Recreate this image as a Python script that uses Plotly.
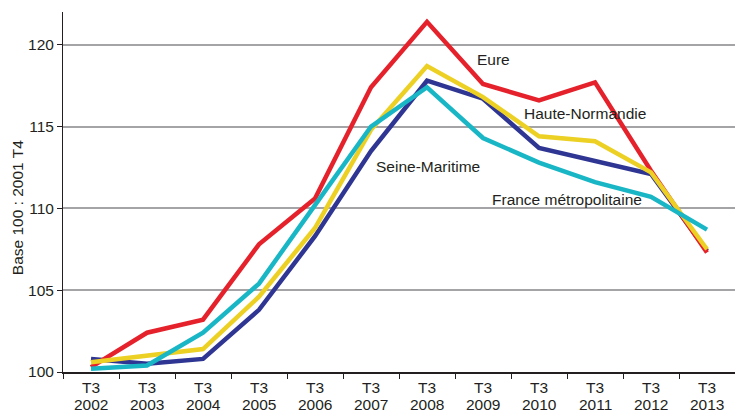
import plotly.graph_objects as go

years = ["2002", "2003", "2004", "2005", "2006", "2007", "2008", "2009", "2010", "2011", "2012", "2013"]
quarter = ["T3"] * len(years)

seine_maritime = [100.8, 100.5, 100.8, 103.8, 108.3, 113.5, 117.8, 116.7, 113.7, 112.9, 112.1, 107.4]
eure = [100.3, 102.4, 103.2, 107.8, 110.6, 117.4, 121.4, 117.6, 116.6, 117.7, 112.3, 107.3]
haute_normandie = [100.6, 101.0, 101.4, 104.6, 108.8, 114.8, 118.7, 116.8, 114.4, 114.1, 112.2, 107.5]
france_metro = [100.2, 100.4, 102.4, 105.4, 110.2, 115.0, 117.4, 114.3, 112.8, 111.6, 110.7, 108.7]

series = [
    ("Seine-Maritime", seine_maritime, "#2e3592"),
    ("Eure", eure, "#e5222b"),
    ("Haute-Normandie", haute_normandie, "#ecd024"),
    ("France métropolitaine", france_metro, "#19b6c6"),
]

fig = go.Figure()
for name, vals, col in series:
    fig.add_trace(go.Scatter(
        x=years, y=vals, mode="lines", name=name,
        line=dict(color=col, width=4.5), showlegend=False,
    ))

font_col = "#231f20"
fnt = dict(family="Liberation Sans, Arial, sans-serif", size=15.5, color=font_col)

labels = [
    ("Eure", 0.640, 0.867),
    ("Haute-Normandie", 0.777, 0.719),
    ("Seine-Maritime", 0.543, 0.572),
    ("France métropolitaine", 0.750, 0.478),
]
for txt, xp, yp in labels:
    fig.add_annotation(text=txt, x=xp, y=yp, xref="paper", yref="paper",
                       showarrow=False, font=fnt, xanchor="center", yanchor="middle")

# year line of the two-line category labels (category index positions)
for i, yr in enumerate(years):
    fig.add_annotation(text=yr, x=i, y=0, xref="x", yref="paper", yshift=-32,
                       borderpad=0, showarrow=False, font=fnt,
                       xanchor="center", yanchor="middle")

fig.add_annotation(text="Base 100 : 2001 T4", x=0, y=0.455, xref="paper", yref="paper",
                   xshift=-46, textangle=-90, showarrow=False, font=fnt,
                   xanchor="center", yanchor="middle")

fig.update_layout(
    width=735, height=412,
    margin=dict(l=63, r=0, t=12, b=40, autoexpand=False),
    paper_bgcolor="white", plot_bgcolor="white",
    font=fnt,
    xaxis=dict(
        type="category", categoryorder="array", categoryarray=years,
        range=[-0.5, 11.5], showgrid=False,
        tickvals=years, ticktext=quarter,
        showline=True, linecolor="#231f20", linewidth=2,
        ticks="outside", tickson="boundaries", ticklen=5, tickcolor="#231f20",
        tickfont=fnt, fixedrange=True, automargin=False,
    ),
    yaxis=dict(
        range=[100, 122], tickvals=[100, 105, 110, 115, 120],
        showgrid=True, gridcolor="#a4a4a7", gridwidth=1.5,
        showline=True, linecolor="#231f20", linewidth=1,
        ticks="outside", ticklen=5, tickcolor="#231f20",
        tickfont=fnt, zeroline=False, automargin=False, fixedrange=True,
    ),
)

fig.write_html("out.html", config={"displayModeBar": False},
               post_script="document.body.style.margin='0px';")
